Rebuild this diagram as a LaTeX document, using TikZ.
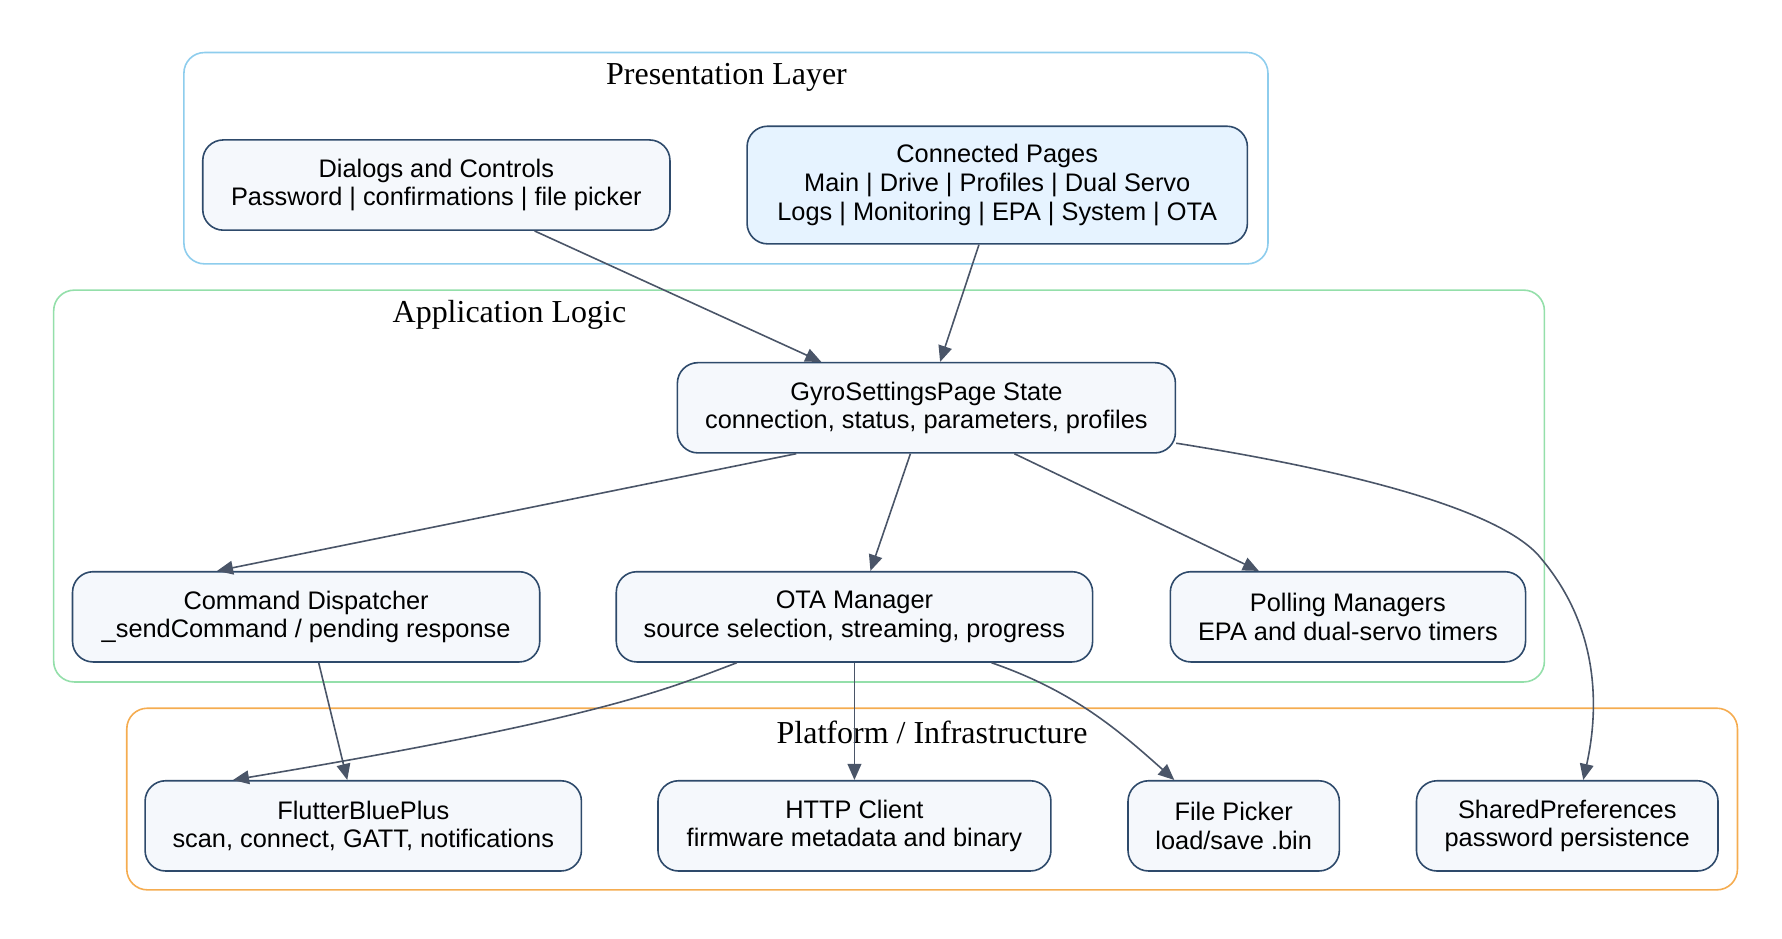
\documentclass[tikz,border=0pt]{standalone}
\usepackage{fontspec}
\setmainfont{Liberation Serif}
\newfontfamily\boxfont{Liberation Sans}
\usetikzlibrary{arrows.meta,calc}
\definecolor{nodeb}{HTML}{2E4A6B}
\definecolor{nodef}{HTML}{F5F8FC}
\definecolor{nodefb}{HTML}{E6F3FF}
\definecolor{edgec}{HTML}{4A5568}
\definecolor{cblue}{HTML}{8ECDED}
\definecolor{cgreen}{HTML}{94DFAA}
\definecolor{corange}{HTML}{F5AC50}
\tikzset{
  box/.style={draw=nodeb,fill=nodef,rounded corners=9pt,line width=0.7pt,align=center,font=\boxfont\fontsize{11.1}{12.5}\selectfont,inner sep=0pt,anchor=center},
  clus/.style={rounded corners=9pt,line width=0.7pt},
  ctitle/.style={font=\fontsize{14}{16}\selectfont},
  edge/.style={draw=edgec,line width=0.7pt,-{Triangle[length=7pt,width=6pt]}}
}
\begin{document}
\begin{tikzpicture}[x=0.5pt,y=-0.5pt]
\useasboundingbox (0,0) rectangle (1560,822);
\draw[clus,cblue] (161,46) rectangle (1110,231);
\node[ctitle] (t1) at (636,68) {Presentation Layer};
\draw[clus,cgreen] (47,254) rectangle (1352,597);
\node[ctitle] (t2) at (446,276) {Application Logic};
\draw[clus,corange] (111,620) rectangle (1521,779);
\node[ctitle] (t3) at (816,641) {Platform / Infrastructure};

\node[box,minimum width=204.5pt,minimum height=39.5pt] (dlg) at (382,162) {Dialogs and Controls\\Password | confirmations | file picker};
\node[box,fill=nodefb,minimum width=219pt,minimum height=51.5pt] (cp) at (873,162) {Connected Pages\\Main | Drive | Profiles | Dual Servo\\Logs | Monitoring | EPA | System | OTA};
\node[box,minimum width=218pt,minimum height=39.5pt] (gyro) at (811,357) {GyroSettingsPage State\\connection, status, parameters, profiles};
\node[box,minimum width=204.5pt,minimum height=39.5pt] (cmd) at (268,540) {Command Dispatcher\\\_sendCommand / pending response};
\node[box,minimum width=208.5pt,minimum height=39.5pt] (ota) at (748,540) {OTA Manager\\source selection, streaming, progress};
\node[box,minimum width=155.5pt,minimum height=39.5pt] (poll) at (1180,540) {Polling Managers\\EPA and dual-servo timers};
\node[box,minimum width=191pt,minimum height=39.5pt] (fbp) at (318,723) {FlutterBluePlus\\scan, connect, GATT, notifications};
\node[box,minimum width=172pt,minimum height=39.5pt] (http) at (748,723) {HTTP Client\\firmware metadata and binary};
\node[box,minimum width=92.5pt,minimum height=39.5pt] (fp) at (1080,723) {File Picker\\load/save .bin};
\node[box,minimum width=132pt,minimum height=39.5pt] (sp) at (1372,723) {SharedPreferences\\password persistence};

\draw[edge] ($(dlg.south)+(86,0)$) -- ($(gyro.north)+(-92,0)$);
\draw[edge] ($(cp.south)+(-16,0)$) -- ($(gyro.north)+(12,0)$);
\draw[edge] ($(gyro.south)+(-114,0)$) -- ($(cmd.north)+(-78,0)$);
\draw[edge] ($(gyro.south)+(-14,0)$) -- ($(ota.north)+(14,0)$);
\draw[edge] ($(gyro.south)+(77,0)$) -- ($(poll.north)+(-78,0)$);
\draw[edge] ($(gyro.east)+(0,31)$) .. controls (1200,415) and (1320,450) .. (1350,490) .. controls (1400,550) and (1400,620) .. ($(sp.north)+(14,0)$);
\draw[edge] ($(cmd.south)+(11,0)$) -- ($(fbp.north)+(-14,0)$);
\draw[edge] ($(ota.south)+(-103,0)$) .. controls (580,605) and (520,630) .. ($(fbp.north)+(-114,0)$);
\draw[edge] (ota.south) -- (http.north);
\draw[edge] ($(ota.south)+(120,0)$) .. controls (940,605) and (980,640) .. ($(fp.north)+(-52,0)$);
\end{tikzpicture}
\end{document}
